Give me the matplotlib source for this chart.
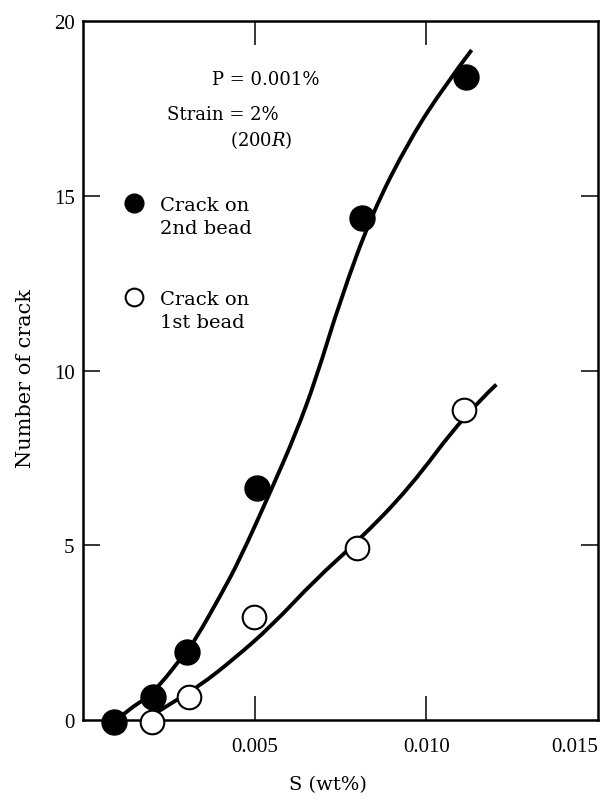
import matplotlib
matplotlib.use("Agg")
import matplotlib.pyplot as plt
from matplotlib.path import Path
from matplotlib.patches import PathPatch
from matplotlib.lines import Line2D

plt.rcParams['font.family'] = ['DejaVu Serif']
plt.rcParams['mathtext.fontset'] = 'custom'
plt.rcParams['mathtext.rm'] = 'DejaVu Serif'
plt.rcParams['mathtext.it'] = 'DejaVu Serif:italic'

TICK_FONT = 'Liberation Serif'

# MEASURED POINTS

s_2nd = [0.00089, 0.00204, 0.00302, 0.00506, 0.00813, 0.01115]
n_2nd = [-0.05, 0.66, 1.95, 6.65, 14.35, 18.4]

s_1st = [0.00201, 0.00308, 0.00497, 0.00799, 0.01109]
n_1st = [-0.05, 0.66, 2.95, 4.92, 8.86]

# FITTED CURVES

curve_2nd_s = [0.00080, 0.00126, 0.00204, 0.00302, 0.00328, 0.00400, 0.00457,
               0.00549, 0.00620, 0.00678, 0.00750, 0.00842, 0.00951, 0.01057, 0.01132]
curve_2nd_n = [-0.15, 0.26, 0.75, 1.97, 2.31, 3.55, 4.60,
               6.60, 8.20, 9.74, 12.03, 14.50, 16.60, 18.20, 19.17]

curve_1st_s = [0.00180, 0.00239, 0.00339, 0.00440, 0.00549, 0.00678, 0.00799,
               0.00950, 0.01109, 0.01204]
curve_1st_n = [0.00, 0.37, 0.97, 1.75, 2.69, 4.03, 5.10,
               6.62, 8.71, 9.60]

x_ticks = [0.005, 0.010, 0.015]
x_labels = ['0.005', '0.010', '0.015']
y_ticks = [0, 5, 10, 15, 20]


def smooth_path(xs, ys):
    # quadratic bezier through the midpoints of the traced points
    pts = list(zip(xs, ys))
    verts = [pts[0]]
    codes = [Path.MOVETO]
    for i in range(1, len(pts) - 1):
        if i < len(pts) - 2:
            end = ((pts[i][0] + pts[i + 1][0]) / 2, (pts[i][1] + pts[i + 1][1]) / 2)
        else:
            end = pts[-1]
        verts += [pts[i], end]
        codes += [Path.CURVE3, Path.CURVE3]
    return Path(verts, codes)


fig = plt.figure(figsize=(6.04, 8.03), dpi=100)
ax = fig.add_axes([0.1374, 0.1021, 0.8526, 0.8705])

# CURVES

for cs, cn in [(curve_2nd_s, curve_2nd_n), (curve_1st_s, curve_1st_n)]:
    ax.add_patch(PathPatch(smooth_path(cs, cn), facecolor='none', edgecolor='black',
                           lw=2.8, capstyle='butt', zorder=2, transform=ax.transData))

# POINTS

h2, = ax.plot(s_2nd, n_2nd, 'o', ms=18, color='black', ls='none',
              zorder=3, clip_on=False)
h1, = ax.plot(s_1st, n_1st, 'o', ms=17, mfc='white', mec='black', mew=1.5, ls='none',
              zorder=3, clip_on=False)

ax.set_xlim(0, 0.015)
ax.set_ylim(0, 20)

ax.set_xticks(x_ticks)
ax.set_xticklabels(x_labels, fontfamily=TICK_FONT)
ax.set_yticks(y_ticks)
ax.set_yticklabels([str(v) for v in y_ticks], fontfamily=TICK_FONT)
ax.xaxis.get_ticklabels()[-1].set_horizontalalignment('right')

ax.tick_params(axis='x', direction='in', length=17, width=1.1, top=True,
               labelsize=15, pad=12)
ax.tick_params(axis='y', direction='in', length=12, width=1.1, right=True,
               labelsize=15, pad=6)
for t in ax.xaxis.get_major_ticks()[-1:]:
    t.tick1line.set_visible(False)
    t.tick2line.set_visible(False)
for t in ax.yaxis.get_major_ticks():
    if t.get_loc() in (0, 20):
        t.tick1line.set_visible(False)
        t.tick2line.set_visible(False)

for sp in ax.spines.values():
    sp.set_linewidth(1.8)

ax.set_xlabel('S (wt%)', fontsize=14)
ax.set_ylabel('Number of crack', fontsize=15)
ax.xaxis.set_label_coords(0.476, -0.079)
ax.yaxis.set_label_coords(-0.093, 0.49)

# ANNOTATION

ax.text(0.250, 0.917, 'P = 0.001%', transform=ax.transAxes, fontsize=13, va='center')
ax.text(0.163, 0.867, 'Strain = 2%', transform=ax.transAxes, fontsize=13, va='center')
ax.text(0.285, 0.831, '(200$R$)', transform=ax.transAxes, fontsize=13, va='center')

# LEGEND (one row per text line, blank rows between entries)

blank = Line2D([], [], ls='none', marker='')
ax.legend([h2, blank, blank, blank, h1, blank],
          ['Crack on', '2nd bead', ' ', ' ', 'Crack on', '1st bead'],
          loc='upper left', bbox_to_anchor=(0.0728, 0.7500), frameon=False,
          fontsize=14, handlelength=1.4, handletextpad=0.64, labelspacing=0.28,
          borderpad=0, borderaxespad=0, numpoints=1, markerscale=0.75)

fig.savefig('out.png', dpi=100)
